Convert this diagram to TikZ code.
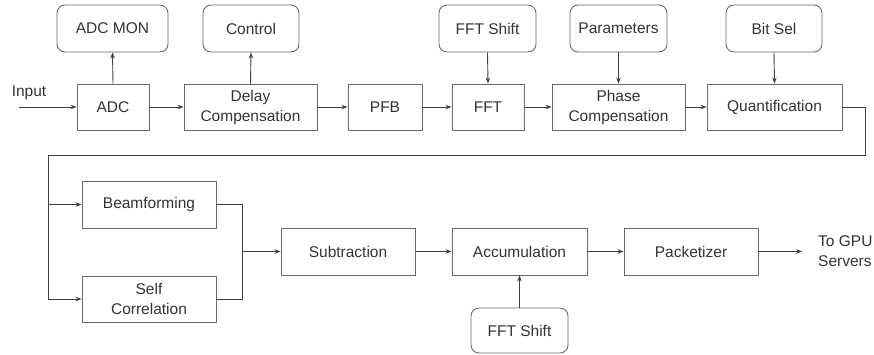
\documentclass[tikz,border=0pt]{standalone}
\usepackage{fontspec}
\setmainfont{Liberation Sans}
\usetikzlibrary{arrows.meta}
\definecolor{boxline}{HTML}{6A6A6A}
\definecolor{txt}{HTML}{333333}
\tikzset{
  box/.style={draw=boxline, line width=0.9pt, minimum height=46pt, inner sep=0pt, align=center, text=txt, font=\fontsize{15.5}{20}\selectfont},
  rbox/.style={box, rounded corners=8pt},
  conn/.style={draw=black!75, line width=0.9pt},
  arr/.style={conn, -{Stealth[length=6pt,width=4.5pt]}},
  lbl/.style={text=txt, font=\fontsize{15.5}{20}\selectfont, inner sep=0pt, align=left}
}
\begin{document}
\begin{tikzpicture}[x=1pt,y=-1pt]
\useasboundingbox (0,0) rectangle (874,354);
% top row control boxes
\node[rbox, minimum width=111pt, minimum height=47pt] (adcmon) at (112.5,28.5) {ADC MON};
\node[rbox, minimum width=96pt, minimum height=47pt] (control) at (251,28.5) {Control};
\node[rbox, minimum width=97pt, minimum height=47pt] (fftshiftA) at (487.5,28.5) {FFT Shift};
\node[rbox, minimum width=97pt, minimum height=47pt] (params) at (618.5,28.5) {Parameters};
\node[rbox, minimum width=96pt, minimum height=47pt] (bitsel) at (774,28.5) {Bit Sel};
% main row
\node[box, minimum width=72pt] (adc) at (113,107) {ADC};
\node[box, minimum width=133pt] (delay) at (250.5,107) {Delay\\Compensation};
\node[box, minimum width=74pt] (pfb) at (385,107) {PFB};
\node[box, minimum width=72pt] (fft) at (488,107) {FFT};
\node[box, minimum width=133pt] (phase) at (618.5,107) {Phase\\Compensation};
\node[box, minimum width=135pt] (quant) at (774.5,107) {Quantification};
% lower part
\node[box, minimum width=134pt, minimum height=47pt] (beam) at (149,204.5) {Beamforming};
\node[box, minimum width=134pt] (self) at (149,299) {Self\\Correlation};
\node[box, minimum width=134pt, minimum height=47pt] (sub) at (348,251.5) {Subtraction};
\node[box, minimum width=135pt, minimum height=47pt] (acc) at (519.5,251.5) {Accumulation};
\node[box, minimum width=134pt, minimum height=47pt] (pack) at (691,251.5) {Packetizer};
\node[rbox, minimum width=97pt, minimum height=45pt] (fftshiftB) at (519.5,330.5) {FFT Shift};
% labels
\node[lbl] (input) at (29,93) {Input};
\coordinate (inpt) at (19,107);
\node[lbl, anchor=west] (gpu) at (818,251.5) {To GPU\\Servers};
% helper coordinates
\coordinate (turn) at (865,155);
\coordinate (split) at (48,155);
\coordinate (merge) at (242,251.5);
% connectors
\draw[arr] (inpt) -- (adc.west);
\draw[arr] (adc.north) -- (adcmon.south);
\draw[arr] (delay.north) -- (control.south);
\draw[arr] (adc.east) -- (delay.west);
\draw[arr] (delay.east) -- (pfb.west);
\draw[arr] (pfb.east) -- (fft.west);
\draw[arr] (fft.east) -- (phase.west);
\draw[arr] (phase.east) -- (quant.west);
\draw[arr] (fftshiftA.south) -- (fft.north);
\draw[arr] (params.south) -- (phase.north);
\draw[arr] (bitsel.south) -- (quant.north);
\draw[conn] (quant.east) -| (turn) -- (split);
\draw[arr] (split) |- (beam.west);
\draw[arr] (split) |- (self.west);
\draw[conn] (beam.east) -| (merge);
\draw[conn] (self.east) -| (merge);
\draw[arr] (merge) -- (sub.west);
\draw[arr] (sub.east) -- (acc.west);
\draw[arr] (acc.east) -- (pack.west);
\draw[arr] (fftshiftB.north) -- (acc.south);
\draw[arr, shorten >=16pt] (pack.east) -- (gpu.west);
\end{tikzpicture}
\end{document}
